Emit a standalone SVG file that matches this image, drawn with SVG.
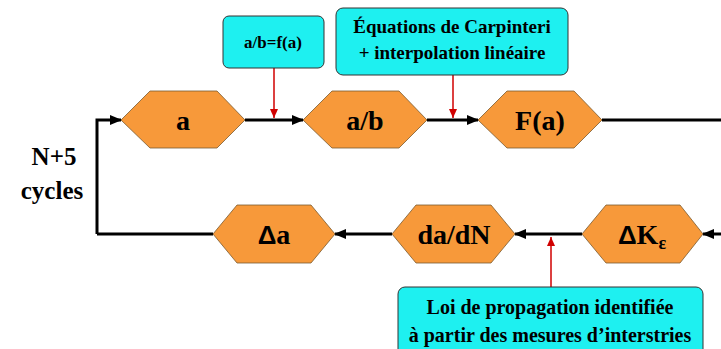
<svg xmlns="http://www.w3.org/2000/svg" width="721" height="349" viewBox="0 0 721 349">
<defs>
<marker id="ah" markerWidth="12" markerHeight="10" refX="11" refY="5" orient="auto" markerUnits="userSpaceOnUse"><path d="M0,0 L12,5 L0,10 Z" fill="#000"/></marker>
<marker id="rhu" markerWidth="9" markerHeight="8" refX="9" refY="4" orient="auto" markerUnits="userSpaceOnUse"><path d="M0,0 L9,4 L0,8 Z" fill="#d00000"/></marker>
</defs>
<g id="connectors" fill="none">
<g stroke="#000" stroke-width="3">
<path d="M97,234 L97,120 L121,120" marker-end="url(#ah)"/>
<path d="M245,120 L303,120" marker-end="url(#ah)"/>
<path d="M427,120 L478,120" marker-end="url(#ah)"/>
<path d="M602,120 L721,120"/>
<path d="M721,234 L703,234" marker-end="url(#ah)"/>
<path d="M582,234 L515,234" marker-end="url(#ah)"/>
<path d="M392,234 L335,234" marker-end="url(#ah)"/>
<path d="M213,234 L97,234"/>
</g>
<g stroke="#d00000" stroke-width="1.5">
<path d="M274,68 L274,118" marker-end="url(#rhu)"/>
<path d="M453,75 L453,118" marker-end="url(#rhu)"/>
<path d="M551,287 L551,237" marker-end="url(#rhu)"/>
</g>
</g>
<g id="label-cycles">
<text x="54" y="165" font-family="Liberation Serif" font-weight="bold" font-size="25" text-anchor="middle">N+5</text>
<text x="52" y="199" font-family="Liberation Serif" font-weight="bold" font-size="25" text-anchor="middle">cycles</text>
</g>
<g id="node-a">
<polygon points="121,120 150,91 217,91 245,120 217,148 150,148" fill="#F7993A" stroke="#7a5a30" stroke-width="0.8"/>
<text x="183" y="130" font-family="Liberation Serif" font-weight="bold" font-size="28" text-anchor="middle">a</text>
</g>
<g id="node-ab">
<polygon points="303,120 332,91 399,91 427,120 399,148 332,148" fill="#F7993A" stroke="#7a5a30" stroke-width="0.8"/>
<text x="365" y="130" font-family="Liberation Serif" font-weight="bold" font-size="28" text-anchor="middle">a/b</text>
</g>
<g id="node-Fa">
<polygon points="478,120 507,91 574,91 602,120 574,148 507,148" fill="#F7993A" stroke="#7a5a30" stroke-width="0.8"/>
<text x="540" y="130" font-family="Liberation Serif" font-weight="bold" font-size="28" text-anchor="middle">F(a)</text>
</g>
<g id="node-dKe">
<polygon points="582,234 606,205 680,205 703,234 680,263 606,263" fill="#F7993A" stroke="#7a5a30" stroke-width="0.8"/>
<text x="642" y="244" font-family="Liberation Serif" font-weight="bold" font-size="28" text-anchor="middle"><tspan font-family="Liberation Sans" font-size="26">Δ</tspan>K<tspan dy="5" font-size="18">ε</tspan></text>
</g>
<g id="node-dadN">
<polygon points="392,234 416,205 491,205 515,234 491,263 416,263" fill="#F7993A" stroke="#7a5a30" stroke-width="0.8"/>
<text x="454" y="244" font-family="Liberation Serif" font-weight="bold" font-size="28" text-anchor="middle">da/dN</text>
</g>
<g id="node-da">
<polygon points="213,234 237,205 311,205 335,234 311,263 237,263" fill="#F7993A" stroke="#7a5a30" stroke-width="0.8"/>
<text x="274" y="244" font-family="Liberation Serif" font-weight="bold" font-size="28" text-anchor="middle"><tspan font-family="Liberation Sans" font-size="26">Δ</tspan>a</text>
</g>
<g id="callout-ab">
<rect x="223" y="16" width="101" height="52" rx="6" fill="#1EF0F0" stroke="#333"/>
<text x="273" y="48" font-family="Liberation Serif" font-weight="bold" font-size="17" text-anchor="middle">a/b=f(a)</text>
</g>
<g id="callout-carpinteri">
<rect x="336" y="8" width="232" height="67" rx="7" fill="#1EF0F0" stroke="#333"/>
<text x="452" y="33" font-family="Liberation Serif" font-weight="bold" font-size="19" text-anchor="middle">Équations de Carpinteri</text>
<text x="452" y="59" font-family="Liberation Serif" font-weight="bold" font-size="19" text-anchor="middle">+ interpolation linéaire</text>
</g>
<g id="callout-loi">
<rect x="398" y="287" width="305" height="75" rx="7" fill="#1EF0F0" stroke="#333"/>
<text x="550" y="314" font-family="Liberation Serif" font-weight="bold" font-size="20" text-anchor="middle">Loi de propagation identifiée</text>
<text x="550" y="342" font-family="Liberation Serif" font-weight="bold" font-size="20" text-anchor="middle">à partir des mesures d’interstries</text>
</g>
</svg>
